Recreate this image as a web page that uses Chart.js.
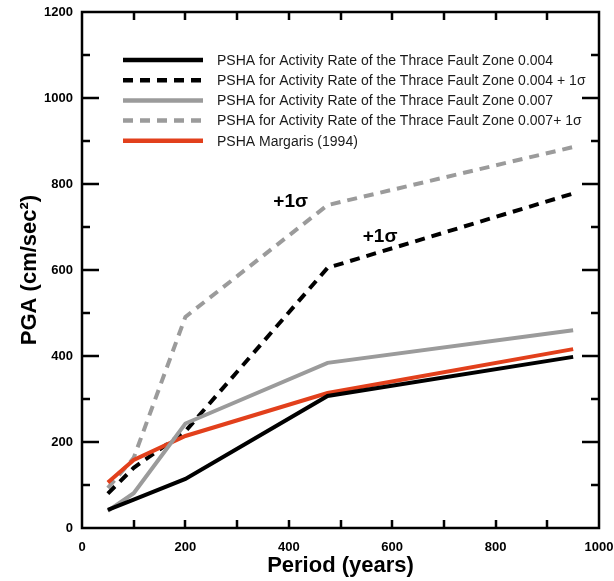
<!DOCTYPE html>
<html>
<head>
<meta charset="utf-8">
<script src="https://cdn.jsdelivr.net/npm/chart.js@4.4.0/dist/chart.umd.min.js"></script>
<style>
  html, body { margin: 0; padding: 0; background: #fff; }
</style>
</head>
<body>
<canvas id="pgaChart" width="614" height="581"></canvas>
<script>
// return periods (years) and PGA values (cm/sec2)
const periods = [50, 100, 200, 475, 950];
const pga004 = [42, 66, 114, 307, 398];
const pga004Sigma = [80, 140, 225, 605, 778];
const pga007 = [40, 81, 243, 384, 460];
const pga007Sigma = [93, 163, 491, 751, 886];
const pgaMargaris = [106, 158, 214, 314, 416];

const seriesLabels = [
  'PSHA for Activity Rate of the Thrace Fault Zone 0.004',
  'PSHA for Activity Rate of the Thrace Fault Zone 0.004 + 1σ',
  'PSHA for Activity Rate of the Thrace Fault Zone 0.007',
  'PSHA for Activity Rate of the Thrace Fault Zone 0.007+ 1σ',
  'PSHA Margaris (1994)'
];

const FONT = '"Liberation Sans", Arial, sans-serif';
const DASH = [10, 7];

function toPoints(values) {
  return periods.map((p, i) => ({ x: p, y: values[i] }));
}

function line(label, values, color, dashed, order) {
  return {
    label: label,
    data: toPoints(values),
    borderColor: color,
    borderWidth: 4,
    borderDash: dashed ? DASH : [],
    borderCapStyle: 'butt',
    pointRadius: 0,
    tension: 0,
    fill: false,
    order: order
  };
}

// box frame with inward tick marks on all four sides
const frameTicks = {
  id: 'frameTicks',
  beforeDatasetsDraw(chart) {
    const { ctx, chartArea: a, scales: { x, y } } = chart;
    ctx.save();
    ctx.strokeStyle = '#000';
    ctx.lineWidth = 2.5;
    ctx.beginPath();
    for (let v = 100; v < 1200; v += 100) {
      const py = Math.round(y.getPixelForValue(v));
      const len = v % 200 === 0 ? 17 : 8;
      ctx.moveTo(a.left, py); ctx.lineTo(a.left + len, py);
      ctx.moveTo(a.right, py); ctx.lineTo(a.right - len, py);
    }
    for (let v = 100; v < 1000; v += 100) {
      const px = Math.round(x.getPixelForValue(v));
      ctx.moveTo(px, a.bottom); ctx.lineTo(px, a.bottom - 8);
      ctx.moveTo(px, a.top); ctx.lineTo(px, a.top + 8);
    }
    ctx.stroke();
    ctx.strokeRect(a.left, a.top, a.right - a.left, a.bottom - a.top);
    ctx.restore();
  }
};

// legend box inside the plot, axis titles and the +1σ notes
const extras = {
  id: 'extras',
  afterDraw(chart) {
    const { ctx, chartArea: a, scales: { x, y } } = chart;
    ctx.save();

    // legend (drawn in the order of seriesLabels)
    ctx.font = '14px ' + FONT;
    ctx.textBaseline = 'middle';
    ctx.textAlign = 'left';
    chart.data.datasets.forEach((ds, i) => {
      const ly = 60 + i * 20.2;
      ctx.strokeStyle = ds.borderColor;
      ctx.lineWidth = 4.5;
      ctx.lineCap = 'butt';
      ctx.setLineDash(ds.borderDash);
      ctx.beginPath();
      ctx.moveTo(123, ly);
      ctx.lineTo(203, ly);
      ctx.stroke();
      ctx.setLineDash([]);
      ctx.fillStyle = '#1a1a1a';
      ctx.fillText(ds.label, 217, ly + 1);
    });

    // +1σ notes next to the dashed curves
    ctx.fillStyle = '#000';
    ctx.font = 'bold 19px ' + FONT;
    [[370, 758], [543, 677]].forEach(([vx, vy]) => {
      ctx.fillText('+1σ', x.getPixelForValue(vx), y.getPixelForValue(vy));
    });

    // axis titles
    ctx.font = 'bold 22px ' + FONT;
    ctx.textAlign = 'center';
    ctx.fillText('Period (years)', (a.left + a.right) / 2, 566);
    ctx.translate(30, (a.top + a.bottom) / 2);
    ctx.rotate(-Math.PI / 2);
    ctx.fillText('PGA (cm/sec²)', 0, 0);
    ctx.restore();
  }
};

const ctx = document.getElementById('pgaChart').getContext('2d');
new Chart(ctx, {
  type: 'line',
  data: {
    datasets: [
      line(seriesLabels[0], pga004, '#000000', false, 1),
      line(seriesLabels[1], pga004Sigma, '#000000', true, 4),
      line(seriesLabels[2], pga007, '#9b9b9b', false, 2),
      line(seriesLabels[3], pga007Sigma, '#9b9b9b', true, 5),
      line(seriesLabels[4], pgaMargaris, '#e2401c', false, 3)
    ]
  },
  options: {
    responsive: false,
    animation: false,
    layout: { padding: { top: 12, right: 15, left: 0, bottom: 0 } },
    plugins: {
      legend: { display: false },
      tooltip: { enabled: false }
    },
    scales: {
      x: {
        type: 'linear',
        min: 0,
        max: 1000,
        afterFit: s => {
          s.height = 53;
          s.paddingLeft = 0;
          s.paddingRight = 0;
        },
        grid: { display: false, drawTicks: false },
        border: { display: false },
        ticks: {
          stepSize: 200,
          padding: 12,
          color: '#000',
          callback: v => String(v),
          font: { family: FONT, size: 13, weight: 'bold' }
        }
      },
      y: {
        min: 0,
        max: 1200,
        afterFit: s => {
          s.width = 82;
          s.paddingTop = 0;
          s.paddingBottom = 0;
        },
        grid: { display: false, drawTicks: false },
        border: { display: false },
        ticks: {
          stepSize: 200,
          padding: 9,
          color: '#000',
          callback: v => String(v),
          font: { family: FONT, size: 13, weight: 'bold' }
        }
      }
    }
  },
  plugins: [frameTicks, extras]
});
</script>
</body>
</html>
